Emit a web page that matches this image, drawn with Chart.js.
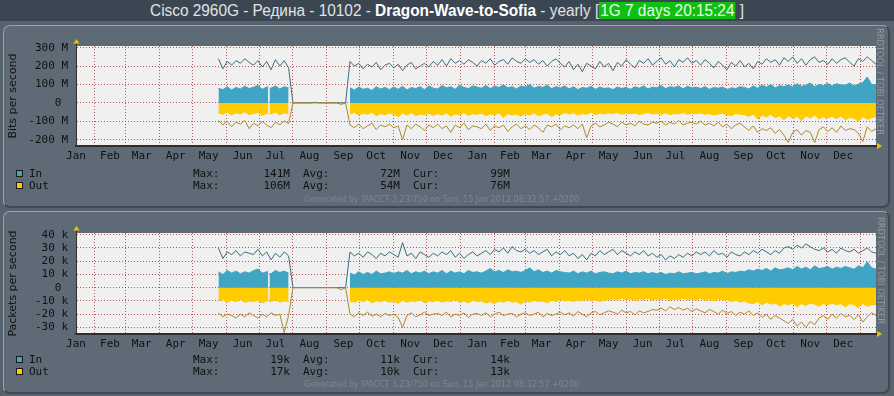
<!DOCTYPE html>
<html><head><meta charset="utf-8">
<script src="https://cdn.jsdelivr.net/npm/chart.js@4.4.1/dist/chart.umd.min.js"></script>
<style>
html,body{margin:0;padding:0;}
body{width:894px;height:396px;background:#56636d;position:relative;overflow:hidden;font-family:"DejaVu Sans",sans-serif;}
#titlebar{position:absolute;left:0;top:0;width:894px;height:21px;background:#3a4752;}
#titletext{position:absolute;left:447px;top:1px;white-space:nowrap;color:#e2e2e2;font-family:"Liberation Sans",sans-serif;font-size:16px;line-height:19px;transform-origin:center center;}
#titletext b{color:#ffffff;}
#titletext .up{background:#10c010;color:#eaffea;padding:0 1px;}
.panel{position:absolute;left:3px;width:884px;background:#5e6b76;border-top:1px solid #97a2aa;border-left:1px solid #97a2aa;border-bottom:2px solid #3c4a55;border-right:2px solid #3c4a55;border-radius:7px;}
canvas{position:absolute;left:0;}
.wm{position:absolute;white-space:nowrap;color:#8e98a0;font-family:"DejaVu Sans",sans-serif;font-size:9px;line-height:9px;transform-origin:center center;}
.lrow{position:absolute;left:0;width:894px;height:12px;font-family:"DejaVu Sans Mono",monospace;font-size:11px;line-height:12px;color:#111;}
.lrow span{position:absolute;top:0;white-space:pre;}
.sq{position:absolute;width:5px;height:5px;border:1px solid #1a1a1a;}
.gen{position:absolute;left:304px;white-space:nowrap;font-family:"DejaVu Sans",sans-serif;font-size:8px;line-height:9px;color:#7b8791;}
</style>
</head><body>
<div id="titlebar"><div id="titletext">Cisco 2960G - Редина - 10102 - <b>Dragon-Wave-to-Sofia</b> - yearly [<span class="up">1G 7 days 20:15:24</span> ]</div></div>
<div class="panel" style="top:25px;height:180px;"></div>
<div class="panel" style="top:211px;height:180px;"></div>
<canvas id="c1" width="894" height="140" style="top:30px"></canvas>
<canvas id="c2" width="894" height="142" style="top:216px"></canvas>
<div class="wm" id="wm1">RRDTOOL / TOBI OETIKER</div>
<div class="wm" id="wm2">RRDTOOL / TOBI OETIKER</div>
<div id="legends"></div>
<script>
// ---- time axis (day 0 = 15 Jan 2010, end = 15 Jan 2012) ----
const startDay = 130;      // first sample, 25 May 2010
const stepDays = 4;
const inGapDay = 176;      // short outage around 10 Jul 2010
const endDay = 730;
const monthStartDays = [17,45,76,106,137,167,198,229,259,290,320,351,382,410,441,471,502,532,563,594,624,655,685,716];
const monthLabelDays = [0,31,60,91,121,152,182,213,244,274,305,335,366,396,425,456,486,517,547,578,609,639,670,700];
const monthLabels = ['Jan','Feb','Mar','Apr','May','Jun','Jul','Aug','Sep','Oct','Nov','Dec','Jan','Feb','Mar','Apr','May','Jun','Jul','Aug','Sep','Oct','Nov','Dec'];

// ---- Bits per second (M) ----
const bitsTicks = [-200,-100,0,100,200,300];
const bitsTickLabels = ['-200 M','-100 M','0 ','100 M','200 M','300 M'];
const bitsInMax = [
 240,185,225,205,230,215,240,220,205,230,195,225,180,235,200,230,190,
 0,0,0,0,0,3,0,0,0,0,0,0,0,
 225,200,215,185,210,195,220,180,205,215,
 190,210,175,205,220,185,200,215,195,225,
 205,235,200,240,215,230,210,235,220,200,
 230,215,240,205,225,235,210,245,225,215,
 240,220,235,210,230,200,225,240,215,195,
 225,180,210,170,215,200,185,225,195,215,
 175,220,200,235,210,190,230,215,240,205,
 225,245,210,230,195,235,220,245,215,230,
 205,235,215,190,225,205,180,220,200,230,
 195,215,185,225,210,240,220,235,205,245,
 225,250,215,240,205,235,250,220,230,210,
 240,215,235,245,220,200,240,225,250,230,210];
const bitsInAvg = [
 80,72,88,70,84,76,90,78,85,95,74,86,80,92,75,88,82,
 null,null,null,null,null,null,null,null,null,null,null,null,null,
 82,70,86,74,80,68,88,76,84,72,
 86,74,90,70,84,78,88,72,92,80,
 76,94,82,88,74,96,84,78,92,86,
 80,94,78,90,84,98,82,88,76,92,
 86,100,80,90,84,96,78,88,82,92,
 76,88,72,84,80,90,74,86,78,82,
 72,86,78,84,74,88,80,92,76,86,
 82,94,78,88,84,92,76,90,82,86,
 78,88,74,84,80,86,72,82,78,88,
 84,76,92,80,96,86,100,82,94,88,
 98,86,104,90,96,108,88,100,94,106,
 92,104,98,96,108,92,102,110,141,100,99];
const bitsOutAvg = [
 -55,-62,-50,-66,-54,-60,-48,-64,-58,-52,-68,-56,-60,-50,-64,-54,-60,
 null,null,null,null,null,null,null,null,null,null,null,null,null,
 -60,-52,-66,-56,-62,-50,-70,-58,-64,-54,
 -62,-74,-56,-66,-52,-70,-60,-64,-56,-68,
 -58,-66,-54,-72,-60,-64,-52,-68,-58,-62,
 -56,-70,-60,-64,-54,-78,-58,-66,-62,-72,
 -58,-66,-54,-70,-62,-56,-74,-60,-64,-52,
 -60,-54,-66,-58,-62,-50,-64,-56,-60,-54,
 -58,-52,-62,-56,-60,-54,-64,-58,-52,-60,
 -56,-62,-54,-64,-58,-60,-52,-62,-56,-60,
 -54,-62,-58,-66,-60,-56,-64,-70,-58,-62,
 -64,-72,-60,-88,-66,-76,-62,-80,-70,-92,
 -68,-84,-74,-96,-70,-82,-66,-88,-76,-80,
 -72,-86,-70,-92,-78,-84,-100,-74,-90,-80,-76];
const bitsOutMax = [
 -95,-120,-100,-130,-105,-115,-95,-140,-110,-125,-100,-120,-135,-105,-118,-98,-112,
 0,0,0,0,0,0,0,0,0,0,0,-8,0,
 -120,-135,-115,-140,-125,-110,-145,-120,-130,-115,
 -135,-125,-200,-120,-140,-115,-130,-150,-120,-135,
 -115,-140,-125,-160,-120,-135,-110,-145,-125,-130,
 -140,-115,-150,-125,-135,-120,-155,-130,-115,-140,
 -125,-145,-120,-135,-160,-120,-130,-115,-145,-125,
 -135,-120,-140,-115,-190,-125,-110,-130,-120,-105,
 -115,-130,-105,-120,-110,-125,-100,-115,-120,-105,
 -110,-100,-120,-105,-115,-95,-120,-110,-105,-115,
 -100,-120,-110,-125,-105,-130,-115,-140,-120,-110,
 -130,-150,-125,-160,-140,-150,-135,-165,-145,-175,
 -215,-160,-145,-175,-150,-160,-215,-145,-130,-155,
 -135,-160,-125,-150,-140,-145,-165,-210,-130,-155,-140];
const bitsInStats = ['141M','72M','99M'];
const bitsOutStats = ['106M','54M','76M'];

// ---- Packets per second (k) ----
const pktsTicks = [-30,-20,-10,0,10,20,30,40];
const pktsTickLabels = ['-30 k','-20 k','-10 k','0 ','10 k','20 k','30 k','40 k'];
const pktsInMax = [
 30,22,27,25,28,24,27,26,25,29,24,27,21,26,23,27,24,
 0,0,0,0,0,0,0,0,0,0,0,0,0,
 27,24,26,23,27,25,22,26,24,27,
 25,23,34,24,26,22,27,25,23,26,
 24,27,25,28,23,26,22,25,27,24,
 26,28,25,29,27,30,26,31,28,27,
 29,26,28,25,27,29,24,27,25,28,
 24,26,22,25,21,26,24,28,25,27,
 29,25,28,26,24,27,25,28,24,26,
 23,25,21,24,22,25,23,26,24,27,
 25,27,24,28,25,26,23,27,25,24,
 27,25,28,26,29,27,25,28,26,30,
 31,29,32,30,33,31,29,28,30,27,
 29,26,30,28,27,29,26,28,30,27,26];
const pktsInAvg = [
 12,10,13,11,12.5,10.5,12,11,13,14,11,12,10.5,13,11.5,12.5,11,
 null,null,null,null,null,null,null,null,null,null,null,null,null,
 11,9.5,12,10,11.5,10,12.5,10.5,11,12,
 10.5,12,11,13,10.5,12,11,12.5,10.5,12,
 11,13,10.5,12.5,11,12,10.5,13,11.5,12,
 11,12.5,14.5,12,13,11.5,13.5,12,12.5,11.5,
 13,15,12,13.5,11.5,12.5,11,13,12,11.5,
 11,12.5,10.5,12,11,12.5,10.5,11.5,12,11,
 10.5,12,11,12.5,10.5,11.5,11,12,10.5,11.5,
 10.5,11.5,10,11,10.5,12,10.5,11,11.5,10.5,
 11,12,10.5,11.5,11,12.5,10.5,12,11.5,12.5,
 12,13.5,12.5,14,13,14.5,12.5,15,13.5,14,
 15,13.5,16,14,15.5,13.5,16.5,14.5,15,16,
 14,15.5,14.5,16,15,14,16.5,15,19.5,15,14];
const pktsOutAvg = [
 -10,-9,-11,-9.5,-10.5,-9,-11,-10,-10.5,-9.5,-11.5,-10,-10.5,-9,-11,-10,-10.5,
 null,null,null,null,null,null,null,null,null,null,null,null,null,
 -10,-11,-9.5,-10.5,-9,-11.5,-10,-10.5,-9.5,-11,
 -10,-12,-9.5,-11,-10,-10.5,-9,-11.5,-10,-10.5,
 -9.5,-11,-10,-10.5,-9,-11,-10,-11.5,-9.5,-10.5,
 -10,-11.5,-10.5,-12,-10,-11,-9.5,-11,-10.5,-12.5,
 -10,-11,-9.5,-10.5,-10,-11.5,-9.5,-10.5,-9,-10,
 -9.5,-10.5,-9,-10,-8.5,-10,-9,-10.5,-9.5,-9,
 -8.5,-9.5,-8,-9,-8.5,-10,-8.5,-9,-8,-9.5,
 -8.5,-9,-8,-9.5,-8.5,-9,-8,-9,-8.5,-9.5,
 -8,-9.5,-9,-10,-8.5,-9.5,-9,-10.5,-9.5,-11,
 -10,-11.5,-12,-10.5,-13,-11,-12.5,-11.5,-14,-12,
 -13,-11.5,-14.5,-12,-13.5,-11.5,-12.5,-14,-12,-13,
 -11.5,-13,-12,-14.5,-12,-13,-15,-12,-14,-13,-13];
const pktsOutMax = [
 -19,-22,-20,-21,-23,-20,-22,-19,-21,-23,-20,-22,-19,-21,-20,-34,-21,
 0,0,0,0,0,0,0,0,0,0,0,-1.5,0,
 -20,-22,-19,-21,-18.5,-21.5,-20,-22,-19.5,-21,
 -20,-22.5,-30,-21,-19,-22,-20.5,-18.5,-21,-20,
 -19.5,-21,-18.5,-22,-20,-21,-19,-22.5,-20,-19.5,
 -21,-19,-22,-20,-18.5,-21,-20,-19.5,-22,-20,
 -19,-21,-20,-18.5,-22,-19.5,-21,-20,-18.5,-20.5,
 -19,-21.5,-18,-20,-22,-19,-18,-20.5,-19,-17.5,
 -18.5,-20,-17,-19,-18,-20.5,-17.5,-19,-18,-16.5,
 -17,-15.5,-17.5,-14.5,-16.5,-15,-17,-15.5,-18,-16,
 -17.5,-19,-16.5,-18,-20,-17,-19.5,-18,-21,-18.5,
 -20,-17.5,-21,-19,-22.5,-20,-24,-21,-23,-25,
 -27,-24,-29,-26,-30,-25.5,-28,-23,-21,-24,
 -20,-23,-19.5,-22,-21,-24,-20.5,-26,-22,-19,-21];
const pktsInStats = ['19k','11k','14k'];
const pktsOutStats = ['17k','10k','13k'];

const legendNames = ['In','Out'];
const statNames = ['Max:','Avg:','Cur:'];
const generatedText = 'Generated by IPACCT 3.23/750 on Sun, 15 Jan 2012 08:32:57 +0200';

// ---- styling ----
const GRID = 'rgba(165,40,40,0.75)';
const IN_FILL = '#40a5c5', OUT_FILL = '#ffcc00', IN_LINE = '#3b6d7e', OUT_LINE = '#ac8b29';

const xTicks = monthStartDays.map(d => ({day:d, label:''}))
  .concat(monthLabelDays.map((d,i) => ({day:d, label:monthLabels[i]})))
  .sort((a,b) => a.day - b.day);

// build {x,y} points; for the gap, the neighbouring samples are held up to the edge of a 1-day hole
function pts(values, gap) {
  const out = [];
  values.forEach((v,i) => {
    const d = startDay + i*stepDays;
    if (gap !== undefined && d > gap && d - stepDays < gap) {
      out.push({x:gap - 0.6, y:values[i-1]});
      out.push({x:gap, y:null});
      out.push({x:gap + 0.6, y:v});
    }
    out.push({x:d, y:v});
  });
  return out;
}

const rrdDecor = {
  id:'rrdDecor',
  beforeDraw(chart) {
    const {ctx, chartArea:a} = chart;
    ctx.save(); ctx.fillStyle = '#f0f0f0';
    ctx.fillRect(a.left, a.top, a.right - a.left, a.bottom - a.top);
    ctx.restore();
  },
  afterDraw(chart) {
    const {ctx, chartArea:a} = chart;
    ctx.save();
    ctx.strokeStyle = '#333'; ctx.lineWidth = 1;
    ctx.beginPath(); ctx.moveTo(a.left + 0.5, a.top); ctx.lineTo(a.left + 0.5, a.top - 3); ctx.stroke();
    ctx.fillStyle = '#f2c200';
    ctx.beginPath(); ctx.moveTo(a.left - 2.5, a.top - 2.5); ctx.lineTo(a.left + 3.5, a.top - 2.5); ctx.lineTo(a.left + 0.5, a.top - 7); ctx.closePath(); ctx.fill();
    ctx.beginPath(); ctx.moveTo(a.right + 1, a.bottom - 3); ctx.lineTo(a.right + 1, a.bottom + 3); ctx.lineTo(a.right + 6, a.bottom); ctx.closePath(); ctx.fill();
    ctx.restore();
  }
};

function makeChart(id, padTop, yMin, yMax, ticks, tickLabels, title, inMax, inAvg, outAvg, outMax) {
  return new Chart(document.getElementById(id), {
    type:'line',
    data:{datasets:[
      {data:pts(outMax), borderColor:OUT_LINE, borderWidth:1, fill:false, order:0},
      {data:pts(inMax), borderColor:IN_LINE, borderWidth:1, fill:false, order:0},
      {data:pts(inAvg, inGapDay), borderColor:IN_FILL, backgroundColor:IN_FILL, borderWidth:1, fill:'origin', order:1},
      {data:pts(outAvg, inGapDay), borderColor:OUT_FILL, backgroundColor:OUT_FILL, borderWidth:1, fill:'origin', order:1}
    ]},
    options:{
      responsive:false, animation:false, devicePixelRatio:1, events:[],
      layout:{padding:{left:0, right:18, top:padTop, bottom:0}},
      plugins:{legend:{display:false}, tooltip:{enabled:false}},
      elements:{point:{radius:0}, line:{tension:0}},
      scales:{
        x:{type:'linear', min:0, max:endDay, z:1,
           afterBuildTicks:s => { s.ticks = xTicks.map(t => ({value:t.day})); },
           afterFit:s => { s.height = 24; },
           ticks:{autoSkip:false, maxRotation:0, minRotation:0, padding:4, color:'#111',
                  font:{family:'DejaVu Sans Mono', size:11}, callback:(v,i) => xTicks[i] ? xTicks[i].label : ''},
           grid:{drawTicks:false, lineWidth:1, color:c => (c.tick && monthStartDays.includes(c.tick.value)) ? GRID : 'rgba(0,0,0,0)'},
           border:{display:true, color:'#2e2e2e', width:2, dash:[1,2]}},
        y:{type:'linear', min:yMin, max:yMax, z:1,
           afterBuildTicks:s => { s.ticks = ticks.map(v => ({value:v})); },
           afterFit:s => { s.width = 76; },
           ticks:{autoSkip:false, padding:8, color:'#111', font:{family:'DejaVu Sans Mono', size:11}, callback:(v,i) => tickLabels[i]},
           grid:{drawTicks:false, lineWidth:1, color:GRID},
           border:{display:true, color:'#333', width:1, dash:[1,2]},
           title:{display:true, text:title, color:'#111', font:{family:'DejaVu Sans', size:11}, padding:{top:7, bottom:0}}}
      }
    },
    plugins:[rrdDecor]
  });
}

makeChart('c1', 16, -234, 309, bitsTicks, bitsTickLabels, 'Bits per second', bitsInMax, bitsInAvg, bitsOutAvg, bitsOutMax);
makeChart('c2', 17, -35, 41.3, pktsTicks, pktsTickLabels, 'Packets per second', pktsInMax, pktsInAvg, pktsOutAvg, pktsOutMax);

// ---- legends ----
function addLegend(rowTops, genTop, statsRows) {
  const host = document.getElementById('legends');
  const colors = [IN_FILL, OUT_FILL];
  rowTops.forEach((top, r) => {
    const sq = document.createElement('div');
    sq.className = 'sq'; sq.style.left = '16px'; sq.style.top = (top + 2) + 'px'; sq.style.background = colors[r];
    host.appendChild(sq);
    const row = document.createElement('div');
    row.className = 'lrow'; row.style.top = top + 'px';
    const lefts = [193, 303, 413], rights = [290, 400, 510];
    let html = '<span style="left:29px">' + legendNames[r] + '</span>';
    statNames.forEach((n, k) => {
      html += '<span style="left:' + lefts[k] + 'px">' + n + '</span>';
      html += '<span style="right:' + (894 - rights[k]) + 'px">' + statsRows[r][k] + '</span>';
    });
    row.innerHTML = html;
    host.appendChild(row);
  });
  const g = document.createElement('div');
  g.className = 'gen'; g.style.top = genTop + 'px'; g.textContent = generatedText;
  host.appendChild(g);
}
addLegend([168, 180], 195, [bitsInStats, bitsOutStats]);
addLegend([354, 366], 380, [pktsInStats, pktsOutStats]);

// ---- fit title and watermark widths ----
const tt = document.getElementById('titletext');
tt.style.transform = 'translateX(-50%) scaleX(' + (594 / tt.offsetWidth) + ')';
function placeWm(id, cx, cy, len) {
  const el = document.getElementById(id);
  const w = el.offsetWidth;
  el.style.left = (cx - w / 2) + 'px';
  el.style.top = (cy - 4.5) + 'px';
  el.style.transform = 'rotate(90deg) scaleX(' + (len / w) + ')';
}
placeWm('wm1', 880, 81.5, 107);
placeWm('wm2', 881, 270, 107);
</script>
</body></html>
